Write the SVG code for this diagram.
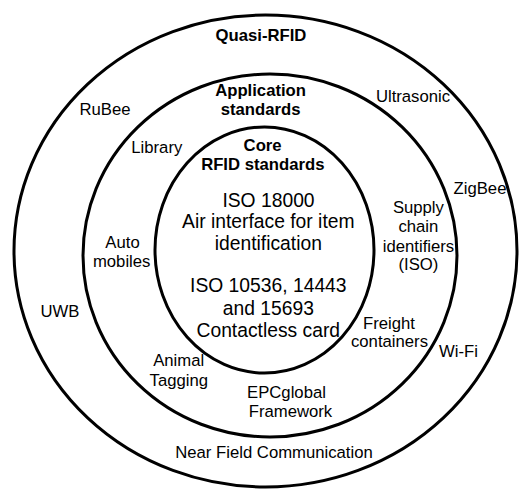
<svg xmlns="http://www.w3.org/2000/svg" width="519" height="490" viewBox="0 0 519 490">
<style>
.ring{fill:none;stroke:#000;stroke-width:3}
text{font-family:"Liberation Sans",Arial,sans-serif;fill:#000;text-anchor:middle}
.h{font-size:16.7px;font-weight:bold}
.l{font-size:16.7px}
.c{font-size:19.3px}
</style>
<rect width="519" height="490" fill="#fff"/>
<g id="quasi-rfid">
<ellipse class="ring" cx="265.5" cy="251" rx="251.5" ry="236"/>
<text class="h" x="261" y="40.7">Quasi-RFID</text>
<text class="l" x="105" y="115">RuBee</text>
<text class="l" x="413" y="101.7">Ultrasonic</text>
<text class="l" x="480" y="194.3">ZigBee</text>
<text class="l" x="60" y="316.7">UWB</text>
<text class="l" x="458.5" y="357.3">Wi-Fi</text>
<text class="l" x="274" y="458.3">Near Field Communication</text>
</g>
<g id="application-standards">
<ellipse class="ring" cx="270" cy="255.5" rx="187" ry="181.5"/>
<text class="h" x="260.6" y="95.5">Application</text>
<text class="h" x="260.6" y="115">standards</text>
<text class="l" x="156.8" y="153.3">Library</text>
<text class="l" x="122.5" y="248.3">Auto</text>
<text class="l" x="121.7" y="267">mobiles</text>
<text class="l" x="418.4" y="213.3">Supply</text>
<text class="l" x="418.4" y="232">chain</text>
<text class="l" x="418.5" y="251.5">identifiers</text>
<text class="l" x="418.4" y="269.5">(ISO)</text>
<text class="l" x="389" y="329.3">Freight</text>
<text class="l" x="389.5" y="347.3">containers</text>
<text class="l" x="178.7" y="366">Animal</text>
<text class="l" x="178.8" y="385.5">Tagging</text>
<text class="l" x="286.5" y="398.3">EPCglobal</text>
<text class="l" x="290.5" y="417.3">Framework</text>
</g>
<g id="core-rfid-standards">
<ellipse class="ring" cx="264.5" cy="250" rx="109.5" ry="123"/>
<text class="h" x="262.6" y="150.7">Core</text>
<text class="h" x="262.8" y="170">RFID standards</text>
<text class="c" x="268.5" y="206.6">ISO 18000</text>
<text class="c" x="268.3" y="228.4">Air interface for item</text>
<text class="c" x="268.3" y="250.3">identification</text>
<text class="c" x="268.3" y="292">ISO 10536, 14443</text>
<text class="c" x="268.3" y="314.5">and 15693</text>
<text class="c" x="268.3" y="336.8">Contactless card</text>
</g>
<g id="connectors"/>
</svg>
